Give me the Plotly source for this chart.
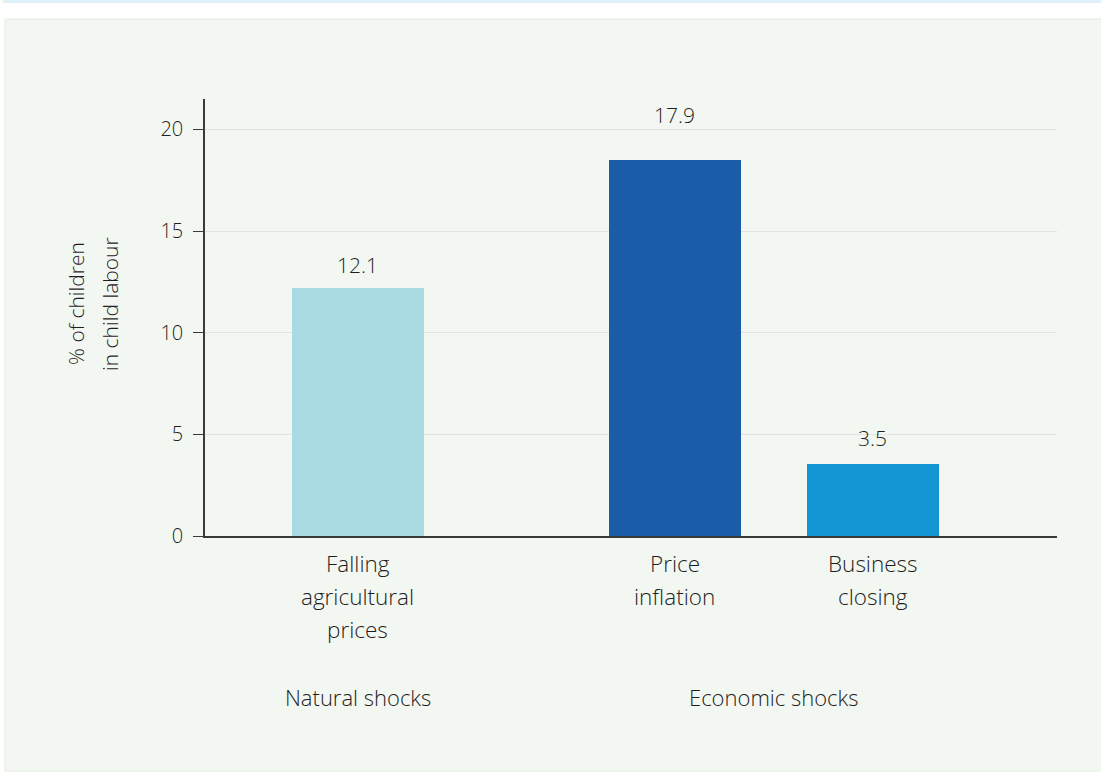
import plotly.graph_objects as go

# ---- data ----
categories = ["Falling agricultural prices", "Price inflation", "Business closing"]
category_lines = [["Falling", "agricultural", "prices"], ["Price", "inflation"], ["Business", "closing"]]
bar_values = [12.2, 18.5, 3.55]          # bar heights as drawn
value_labels = ["12.1", "17.9", "3.5"]   # printed labels
groups = ["Natural shocks", "Economic shocks"]
y_ticks = [0, 5, 10, 15, 20]

# ---- layout constants ----
W, H = 1101, 772
L, R, T, B = 205, 44, 99, 236
x_pos = [1.525, 4.695, 6.675]
bar_width = 1.32
group_x = [1.525, 5.68]
label_shift = [23, 45, 26]
colors = ["#a8dce2", "#1b5ca9", "#1496d4"]
FONT = "Open Sans"
TXT = "#1e1e1e"

fig = go.Figure()
fig.add_trace(go.Bar(
    x=x_pos, y=bar_values, width=bar_width,
    marker=dict(color=colors, line=dict(width=0)),
    hovertext=categories, showlegend=False,
))

ann = []
for xp, v, lab, s in zip(x_pos, bar_values, value_labels, label_shift):
    ann.append(dict(x=xp, y=v, xref="x", yref="y", text=lab, showarrow=False,
                    yshift=s, yanchor="middle", font=dict(size=21, color=TXT)))
for xp, lines in zip(x_pos, category_lines):
    for i, ln in enumerate(lines):
        ann.append(dict(x=xp, y=0, xref="x", yref="y", text=ln, showarrow=False,
                        yshift=-(27 + 33 * i), yanchor="middle",
                        font=dict(size=22.5, color=TXT)))
for gx, g in zip(group_x, groups):
    ann.append(dict(x=gx, y=0, xref="x", yref="y", text=g, showarrow=False,
                    yshift=-161, yanchor="middle", font=dict(size=22, color=TXT)))
# y-axis title, two lines
pw, ph = W - L - R, H - T - B
for xpx, ln in zip([76, 110], ["% of children", "in child labour"]):
    ann.append(dict(x=(xpx - L) / pw, y=(H - B - 304) / ph, xref="paper", yref="paper", text=ln,
                    showarrow=False, textangle=-90, xanchor="center", yanchor="middle",
                    font=dict(size=21, color=TXT)))

def px_x(p):
    return (p - L) / pw

def px_y(p):
    return (H - B - p) / ph

shapes = [
    dict(type="rect", xref="paper", yref="paper", x0=px_x(5), x1=px_x(1104), y0=px_y(771), y1=px_y(19),
         fillcolor="#f3f7f1", line=dict(color="#e4ece2", width=1), layer="below"),
    dict(type="rect", xref="paper", yref="paper", x0=px_x(3), x1=px_x(1104), y0=px_y(3), y1=px_y(0),
         fillcolor="#dff0f9", line=dict(width=0), layer="below"),
]

fig.update_layout(
    width=W, height=H, autosize=False,
    margin=dict(l=L, r=R, t=T, b=B, pad=0),
    paper_bgcolor="white", plot_bgcolor="rgba(0,0,0,0)",
    font=dict(family=FONT, size=19, color=TXT, weight=300),
    annotations=ann, shapes=shapes, bargap=0,
    xaxis=dict(range=[0, 8.52], showticklabels=False, showgrid=False, zeroline=False,
               showline=True, linecolor="#3a3a3a", linewidth=1.5, ticks=""),
    yaxis=dict(range=[0, 21.5], tickvals=y_ticks, ticktext=[str(t) for t in y_ticks],
               showgrid=True, gridcolor="#e3e3e3", gridwidth=1, zeroline=False,
               showline=True, linecolor="#3a3a3a", linewidth=1.5,
               ticks="outside", ticklen=10, tickcolor="#3a3a3a", tickwidth=1,
               tickfont=dict(size=20, color=TXT), ticklabelstandoff=6),
)

fig.write_html("out.html", config={"displayModeBar": False},
               post_script="document.body.style.margin='0';document.body.style.overflow='hidden';"
                           "document.documentElement.style.overflow='hidden';")
